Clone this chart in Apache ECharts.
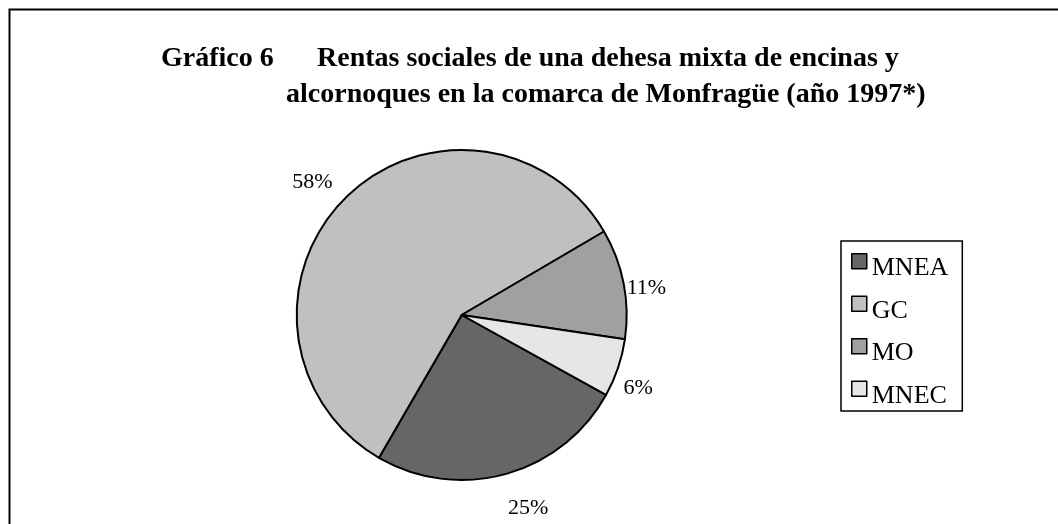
<!DOCTYPE html>
<html>
<head>
<meta charset="utf-8">
<script src="https://cdn.jsdelivr.net/npm/echarts@6/dist/echarts.min.js"></script>
<style>
  html, body { margin: 0; padding: 0; background: #fff; }
  #grafico6 { width: 1058px; height: 524px; }
</style>
</head>
<body>
<div id="grafico6"></div>
<script>
var categories = ['MNEA', 'GC', 'MO', 'MNEC'];
var values = [25.3, 58.2, 10.8, 5.7];

var sliceColors = ['#666666', '#c0c0c0', '#a0a0a0', '#e6e6e6'];
// largo de la linea (oculta) de cada etiqueta y pequeños ajustes, como en el original
var labelLen = [35, 24, 0, 10];
var labelDx = [-7, 5, 3, -4];
var labelDy = [0, 0, 5, 17];

var serif = '"Liberation Serif", "Times New Roman", serif';

var chart = echarts.init(document.getElementById('grafico6'));

var pieData = categories.map(function (name, i) {
    return {
        name: name,
        value: values[i],
        itemStyle: { color: sliceColors[i] },
        labelLine: { length: labelLen[i] }
    };
});

var titleFont = { fontFamily: serif, fontWeight: 'bold', fontSize: 28, lineHeight: 28, color: '#000' };

var option = {
    animation: false,
    backgroundColor: '#fff',
    title: [
        { text: 'Gráfico 6', left: 161, top: 44.5, padding: 0, textStyle: titleFont },
        { text: 'Rentas sociales de una dehesa mixta de encinas y', left: 317, top: 44.5, padding: 0, textStyle: titleFont },
        { text: 'alcornoques en la comarca de Monfragüe (año 1997*)', left: 286, top: 80.5, padding: 0, textStyle: titleFont }
    ],
    legend: {
        orient: 'vertical',
        left: 841,
        top: 241,
        padding: [12, 14, 0, 10],
        itemGap: 12,
        itemWidth: 15,
        itemHeight: 29,
        borderColor: '#000',
        borderWidth: 1.5,
        selectedMode: false,
        data: categories,
        // cuadro arriba, texto algo mas abajo (como Excel)
        icon: 'path://M0,0L15,0L15,15L0,15Z M0,29',
        itemStyle: { borderColor: '#000', borderWidth: 1.5 },
        textStyle: { fontFamily: serif, fontSize: 26, lineHeight: 26, color: '#000' }
    },
    graphic: [
        {
            type: 'rect',
            shape: { x: 9.5, y: 9.5, width: 1200, height: 700 },
            style: { fill: 'none', stroke: '#000', lineWidth: 2 },
            silent: true
        }
    ],
    series: [
        {
            type: 'pie',
            center: [461.7, 315],
            radius: 165,
            startAngle: -29,
            clockwise: true,
            avoidLabelOverlap: false,
            silent: true,
            itemStyle: { borderColor: '#000', borderWidth: 2 },
            label: {
                show: true,
                position: 'outside',
                distanceToLabelLine: 0,
                fontFamily: serif,
                fontSize: 22,
                color: '#000',
                formatter: function (p) { return Math.round(p.percent) + '%'; }
            },
            labelLine: { show: false, length2: 0 },
            labelLayout: function (p) {
                return { dx: labelDx[p.dataIndex], dy: labelDy[p.dataIndex] };
            },
            emphasis: { disabled: true },
            data: pieData
        }
    ]
};

chart.setOption(option);
</script>
</body>
</html>
